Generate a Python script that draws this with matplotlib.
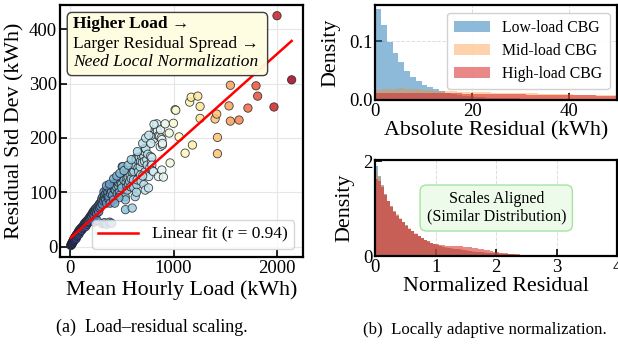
import numpy as np
import matplotlib
matplotlib.use("Agg")
import matplotlib.pyplot as plt
from matplotlib.patches import FancyBboxPatch
from matplotlib.colors import Normalize

plt.rcParams['font.family'] = ['Liberation Serif', 'DejaVu Serif']
plt.rcParams['mathtext.fontset'] = 'stix'

# ---------------- data: panel (a) ----------------
load_kwh = [5, 8, 10, 12, 15, 18, 20, 22, 25, 28, 30, 35, 38, 40, 45, 48, 50, 55, 58, 60,
            65, 70, 72, 75, 80, 85, 88, 90, 95, 100,
            105, 110, 115, 120, 125, 130, 135, 140, 145, 150, 155, 160, 165, 170, 175, 180, 185, 190, 195, 200,
            205, 210, 215, 220, 225, 230, 235, 240, 245, 250, 255, 260, 265, 270, 275, 280, 285, 290, 295, 300,
            310, 330, 350, 380, 400, 230, 260,
            305, 310, 315, 320, 326, 330, 335, 341, 345, 350, 355, 360, 365, 370, 374, 380, 386, 390, 395, 400, 406,
            410, 419, 425, 430, 435, 438, 445, 451, 454, 460, 465, 470, 475, 483, 486, 490, 495, 499, 502, 509,
            515, 520, 531, 534, 534, 540, 548, 548, 551, 555, 560, 565, 570, 575, 580, 585, 590, 599, 600,
            612, 612, 615, 615, 620, 628, 628, 635, 638, 644, 647, 655, 660, 667, 676, 680, 680, 685, 692, 698,
            708, 712, 712, 718, 718, 725, 725, 725, 731, 740, 744, 750, 757, 760, 770, 776, 785, 789, 789, 795,
            805, 805, 812, 821, 831, 837, 843, 853, 853, 863, 870, 873, 879, 886, 886, 892, 892, 901,
            918, 957, 966, 998, 1014, 1021, 1053, 1111, 1155, 1170, 1182, 1234, 1256, 1256,
            1401, 1417, 1424, 1424, 1536, 1549, 1549, 1633, 1719, 1797, 1813, 1971, 2000, 2142,
            350, 380, 420, 450, 480, 520, 560, 590, 650, 700, 730, 760, 780, 810, 640, 700, 470, 430]
resid_std = [2, 4, 3, 5, 6, 5, 8, 7, 10, 9, 12, 11, 14, 16, 13, 18, 17, 20, 15, 22,
             19, 24, 21, 26, 28, 23, 30, 27, 32, 29,
             34, 30, 36, 33, 38, 35, 42, 39, 44, 37, 46, 41, 48, 44, 50, 46, 53, 49, 56, 52,
             58, 55, 62, 60, 65, 57, 67, 63, 70, 66, 61, 72, 68, 75, 64, 78, 71, 80, 74, 83,
             42, 44, 41, 45, 43, 45, 48,
             88, 78, 92, 85, 101, 90, 95, 86, 98, 80, 104, 93, 100, 88, 92, 106, 80, 97, 110, 102, 112,
             95, 86, 115, 105, 104, 117, 110, 120, 97, 125, 112, 118, 100, 95, 120, 128, 115, 108, 147, 147,
             130, 122, 92, 86, 68, 118, 126, 110, 104, 135, 128, 115, 140, 120, 132, 110, 125, 71, 137,
             123, 141, 108, 138, 150, 150, 92, 163, 161, 114, 123, 145, 138, 165, 147, 157, 132, 120, 166, 155,
             169, 166, 114, 157, 175, 181, 138, 104, 180, 160, 150, 170, 108, 129, 145, 166, 155, 164, 150, 140,
             198, 138, 207, 215, 218, 226, 213, 204, 129, 203, 184, 215, 200, 197, 141, 187, 190, 128,
             226, 209, 154, 227, 252, 251, 202, 172, 266, 275, 187, 277, 258, 236,
             235, 244, 201, 171, 259, 297, 231, 233, 255, 296, 277, 257, 425, 307,
             112, 115, 125, 130, 135, 140, 150, 160, 175, 190, 200, 205, 190, 225, 100, 130, 90, 80]
fit_slope = 0.1695
fit_intercept = 15.5
fit_label = "Linear fit (r = 0.94)"

# ---------------- data: panel (b) top ----------------
abs_bin_width = 1.2
low_abs = [0.154, 0.128, 0.099, 0.079, 0.065, 0.050, 0.039, 0.032, 0.025, 0.0215, 0.0186, 0.015, 0.012, 0.010,
           0.008, 0.007, 0.006, 0.005, 0.0045, 0.004, 0.0035, 0.003, 0.003, 0.0025, 0.0025, 0.002, 0.002, 0.002,
           0.0018, 0.0016, 0.0015, 0.0014, 0.0013, 0.0012, 0.0011, 0.001, 0.001, 0.0009, 0.0009, 0.0008, 0.0008, 0.0007]
mid_abs = [0.017, 0.018, 0.018, 0.019, 0.020, 0.019, 0.018, 0.018, 0.017, 0.017, 0.016, 0.016, 0.015, 0.015,
           0.014, 0.014, 0.014, 0.013, 0.013, 0.013, 0.012, 0.012, 0.012, 0.012, 0.011, 0.011, 0.011, 0.011,
           0.010, 0.010, 0.010, 0.010, 0.0095, 0.0095, 0.009, 0.009, 0.009, 0.0085, 0.0085, 0.008, 0.008, 0.008]
high_abs = [0.012, 0.012, 0.012, 0.012, 0.012, 0.012, 0.012, 0.0115, 0.0115, 0.0115, 0.011, 0.011, 0.011, 0.011,
            0.011, 0.0105, 0.0105, 0.0105, 0.010, 0.010, 0.010, 0.010, 0.0098, 0.0096, 0.0095, 0.0094, 0.0092, 0.009,
            0.0089, 0.0088, 0.0086, 0.0085, 0.0083, 0.0082, 0.008, 0.0079, 0.0078, 0.0076, 0.0075, 0.0074, 0.0072, 0.007]

# ---------------- data: panel (b) bottom ----------------
norm_bin_width = 0.05
low_norm = [1.90, 1.70, 1.50, 1.32, 1.17, 1.05, 0.95, 0.87, 0.79, 0.72, 0.65, 0.58, 0.52, 0.47, 0.42, 0.38, 0.34, 0.30, 0.27, 0.25,
            0.23, 0.21, 0.19, 0.18, 0.17, 0.16, 0.15, 0.14, 0.13, 0.12, 0.11, 0.10, 0.095, 0.09, 0.085, 0.08, 0.075, 0.07, 0.065, 0.06,
            0.055, 0.05, 0.046, 0.042, 0.038, 0.035, 0.032, 0.029, 0.026, 0.024, 0.022, 0.02, 0.018, 0.016, 0.015, 0.014, 0.012, 0.011, 0.01, 0.009,
            0.008, 0.008, 0.007, 0.006, 0.006, 0.005, 0.005, 0.004, 0.004, 0.004, 0.003, 0.003, 0.003, 0.003, 0.003, 0.002, 0.002, 0.002, 0.002, 0.002]
mid_norm = [1.78, 1.66, 1.48, 1.31, 1.17, 1.05, 0.96, 0.88, 0.80, 0.72, 0.65, 0.59, 0.53, 0.48, 0.43, 0.39, 0.35, 0.31, 0.28, 0.26,
            0.24, 0.22, 0.20, 0.19, 0.18, 0.17, 0.16, 0.15, 0.14, 0.13, 0.12, 0.11, 0.10, 0.095, 0.09, 0.085, 0.08, 0.075, 0.07, 0.065,
            0.06, 0.055, 0.05, 0.045, 0.04, 0.037, 0.034, 0.031, 0.028, 0.025, 0.023, 0.021, 0.019, 0.017, 0.015, 0.014, 0.013, 0.012, 0.011, 0.01,
            0.009, 0.008, 0.007, 0.007, 0.006, 0.006, 0.005, 0.005, 0.004, 0.004, 0.004, 0.003, 0.003, 0.003, 0.003, 0.002, 0.002, 0.002, 0.002, 0.002]
high_norm = [1.62, 1.58, 1.45, 1.30, 1.16, 1.04, 0.94, 0.85, 0.78, 0.71, 0.64, 0.58, 0.52, 0.47, 0.42, 0.38, 0.34, 0.31, 0.28, 0.26,
             0.25, 0.24, 0.23, 0.22, 0.22, 0.21, 0.21, 0.22, 0.21, 0.20, 0.20, 0.19, 0.18, 0.17, 0.16, 0.14, 0.13, 0.12, 0.10, 0.09,
             0.08, 0.07, 0.06, 0.055, 0.05, 0.045, 0.04, 0.035, 0.03, 0.028, 0.025, 0.022, 0.02, 0.018, 0.016, 0.014, 0.012, 0.011, 0.01, 0.009,
             0.008, 0.007, 0.006, 0.006, 0.005, 0.005, 0.004, 0.004, 0.003, 0.003, 0.003, 0.003, 0.002, 0.002, 0.002, 0.002, 0.002, 0.001, 0.001, 0.001]
group_labels = ["Low-load CBG", "Mid-load CBG", "High-load CBG"]
group_colors = ["#1f77b4", "#ff7f0e", "#d62728"]
group_alphas = [0.5, 0.35, 0.55]

# ---------------- figure ----------------
fig = plt.figure(figsize=(6.18, 3.47), dpi=100)
axA = fig.add_axes([0.097, 0.258, 0.393, 0.728])
axT = fig.add_axes([0.607, 0.712, 0.392, 0.274])
axB = fig.add_axes([0.607, 0.262, 0.392, 0.277])

tick_fs = 13.5
label_fs = 15.8

def style(ax):
    for s in ax.spines.values():
        s.set_linewidth(1.6)
        s.set_color('black')
    ax.tick_params(direction='in', length=5, width=1.2, labelsize=tick_fs, pad=2)

# panel (a)
x = np.array(load_kwh, float)
y = np.array(resid_std, float)
axA.grid(True, color='#e6e6e6', linewidth=0.8, zorder=0)
axA.set_axisbelow(True)
axA.scatter(x, y, c=x, cmap='RdYlBu_r', norm=Normalize(x.min(), x.max()), s=36,
            edgecolors='#222222', linewidths=0.6, alpha=0.85, zorder=2)
xs = np.array([x.min(), x.max()])
axA.plot(xs, fit_slope * xs + fit_intercept, color='red', lw=1.8, label=fit_label, zorder=3)
axA.set_xlim(-100, 2250)
axA.set_ylim(-20, 445)
axA.set_xticks([0, 1000, 2000])
axA.set_yticks([0, 100, 200, 300, 400])
axA.set_xlabel("Mean Hourly Load (kWh)", fontsize=label_fs, labelpad=2)
axA.set_ylabel("Residual Std Dev (kWh)", fontsize=label_fs, labelpad=3)
style(axA)
leg = axA.legend(loc='lower right', fontsize=12.5, frameon=True, framealpha=0.8,
                 handlelength=2.3, borderpad=0.35, fancybox=True)
leg.get_frame().set_edgecolor('#cccccc')

box = FancyBboxPatch((0.03, 0.72), 0.825, 0.25, transform=axA.transAxes,
                     boxstyle="round,pad=0,rounding_size=0.02", facecolor='#fffde0',
                     edgecolor='#333333', linewidth=1.0, zorder=5, alpha=0.95)
axA.add_patch(box)
axA.text(0.055, 0.926, "Higher Load \u2192", transform=axA.transAxes, fontsize=12.5,
         fontweight='bold', va='center', ha='left', zorder=6)
axA.text(0.055, 0.847, "Larger Residual Spread \u2192", transform=axA.transAxes, fontsize=12.5,
         va='center', ha='left', zorder=6)
axA.text(0.055, 0.772, "Need Local Normalization", transform=axA.transAxes, fontsize=12.5,
         style='italic', va='center', ha='left', zorder=6)

# panel (b) top
edges_t = np.arange(len(low_abs) + 1) * abs_bin_width
for vals, lab, col, al in zip([low_abs, mid_abs, high_abs], group_labels, group_colors, group_alphas):
    axT.stairs(vals, edges_t, fill=True, color=col, alpha=al, label=lab, linewidth=0)
axT.set_xlim(0, 50)
axT.set_ylim(0, 1.05 * max(low_abs))
axT.set_xticks([0, 20, 40])
axT.set_yticks([0.0, 0.1])
axT.set_yticklabels(["0.0", "0.1"])
axT.grid(True, linestyle='--', color='#dddddd', linewidth=0.7)
axT.set_axisbelow(True)
axT.set_xlabel("Absolute Residual (kWh)", fontsize=label_fs, labelpad=1)
axT.set_ylabel("Density", fontsize=label_fs, labelpad=6)
style(axT)
legT = axT.legend(loc='upper right', fontsize=11.3, framealpha=0.9, borderpad=0.45,
                  labelspacing=0.45, handlelength=2.3, handletextpad=0.8)
legT.get_frame().set_edgecolor('#cccccc')

# panel (b) bottom
edges_b = np.arange(len(low_norm) + 1) * norm_bin_width
for vals, lab, col, al in zip([low_norm, mid_norm, high_norm], group_labels, group_colors, group_alphas):
    axB.stairs(vals, edges_b, fill=True, color=col, alpha=al, label=lab, linewidth=0)
axB.set_xlim(0, 4)
axB.set_ylim(0, 2.03)
axB.set_xticks([0, 1, 2, 3, 4])
axB.set_yticks([0, 2])
axB.grid(True, axis='x', linestyle='--', color='#dddddd', linewidth=0.7)
axB.set_axisbelow(True)
axB.set_xlabel("Normalized Residual", fontsize=label_fs, labelpad=1)
axB.set_ylabel("Density", fontsize=label_fs, labelpad=6)
style(axB)
axB.text(0.5, 0.5, "Scales Aligned\n(Similar Distribution)", transform=axB.transAxes,
         ha='center', va='center', fontsize=11.5, linespacing=1.1,
         bbox=dict(boxstyle='round,pad=0.4', facecolor='#edfbea', edgecolor='#a6e3a1', linewidth=1.0))

# captions
fig.text(0.246, 0.058, "(a)  Load\u2013residual scaling.", ha='center', va='center', fontsize=13)
fig.text(0.785, 0.049, "(b)  Locally adaptive normalization.", ha='center', va='center', fontsize=12.2)

fig.savefig("out.png", dpi=100)
